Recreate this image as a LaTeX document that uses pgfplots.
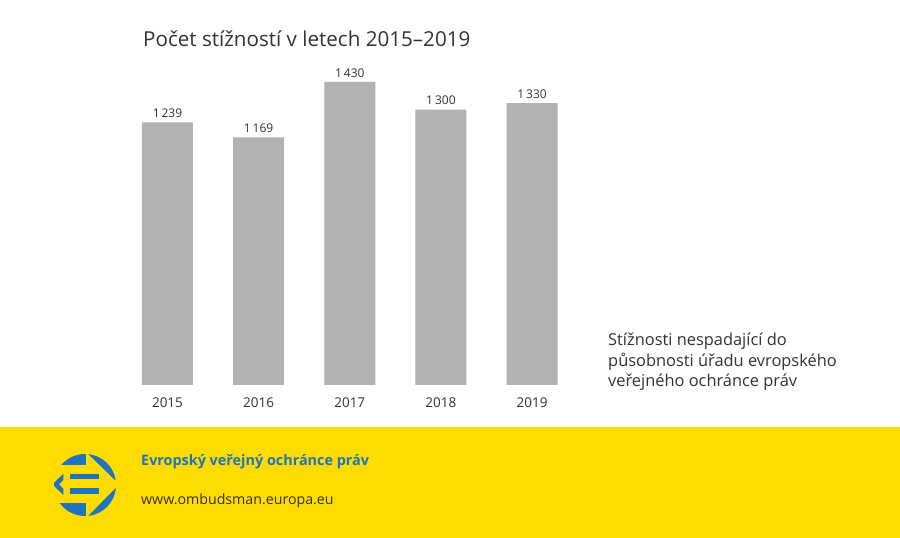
\documentclass[border=0pt]{standalone}
\usepackage{pgfplots}
\pgfplotsset{compat=1.18}
\usepackage{pgfplotstable}
\usepackage{fontspec}
\setmainfont{Open Sans}

\definecolor{eoyellow}{HTML}{FFDC00}
\definecolor{eoblue}{HTML}{1F74BE}
\definecolor{bargray}{HTML}{B2B2B2}
\definecolor{txtgray}{HTML}{333333}

\pgfplotstableread{
year value label
2015 1239 {1\,239}
2016 1169 {1\,169}
2017 1430 {1\,430}
2018 1300 {1\,300}
2019 1330 {1\,330}
}\complaints

\begin{document}
\begin{tikzpicture}[x=1bp,y=1bp]
  % canvas and footer band
  \fill[white] (0,0) rectangle (900,538);
  \fill[eoyellow] (0,0) rectangle (900,111);

  % title
  \node[anchor=base west, inner sep=0pt, text=txtgray,
        font=\fontsize{20.6bp}{24bp}\selectfont] at (143,491.5)
        {Počet stížností v letech 2015–2019};

  \begin{axis}[
      at={(121.9bp,153bp)}, anchor=south west,
      scale only axis, width=455.7bp, height=303bp,
      xmin=2014.5, xmax=2019.5, ymin=0, ymax=1430,
      axis line style={draw=none},
      ytick=\empty,
      xtick={2015,2016,2017,2018,2019},
      xticklabels={2015,2016,2017,2018,2019},
      major tick length=0pt,
      tick label style={text=txtgray, font=\fontsize{13.5bp}{16bp}\selectfont},
      xticklabel style={yshift=-9bp},
      clip=false,
    ]
    \addplot[ybar, bar width=51bp, fill=bargray, draw=none,
             nodes near coords, point meta=explicit symbolic,
             every node near coord/.append style={text=txtgray,
               font=\fontsize{12bp}{14bp}\selectfont, yshift=1bp}]
      table[x=year, y=value, meta=label] {\complaints};
  \end{axis}

  % category description (anchored at the baseline of its last line)
  \node[anchor=base west, inner sep=0pt, text=txtgray, align=left,
        font=\fontsize{16.4bp}{20.5bp}\selectfont] at (608,151)
        {Stížnosti nespadající do\\působnosti úřadu evropského\\veřejného ochránce práv};

  % logo of the European Ombudsman
  \begin{scope}[shift={(85,53)}, scale=31]
    \begin{scope}
      \clip (0,0) circle (1);
      \fill[eoblue] (-1.1,0.63) rectangle (0.02,1.1);
      \fill[eoblue] (-1.1,-0.58) rectangle (0.02,-1.1);
      \fill[eoblue] (0.11,0.99) -- (0.99,0.14) -- (1.2,0.14) -- (1.2,1.2) -- (0.11,1.2) -- cycle;
      \fill[eoblue] (0.11,-0.99) -- (0.99,-0.10) -- (1.2,-0.10) -- (1.2,-1.2) -- (0.11,-1.2) -- cycle;
      \fill[eoblue] (-0.48,0.19) rectangle (0.45,0.35);
      \fill[eoblue] (-0.48,-0.28) rectangle (0.45,-0.10);
      \fill[eoblue] (-0.70,0.36) -- (-1.05,0.02) -- (-0.70,-0.32) -- (-0.70,-0.12)
                    -- (-0.84,0.02) -- (-0.70,0.16) -- cycle;
    \end{scope}
  \end{scope}

  % footer texts
  \node[anchor=base west, inner sep=0pt, text=eoblue,
        font=\fontsize{14.4bp}{18bp}\selectfont\bfseries] at (141,72)
        {Evropský veřejný ochránce práv};
  \node[anchor=base west, inner sep=0pt, text=txtgray,
        font=\fontsize{14.2bp}{18bp}\selectfont] at (141,33)
        {www.ombudsman.europa.eu};
\end{tikzpicture}
\end{document}
